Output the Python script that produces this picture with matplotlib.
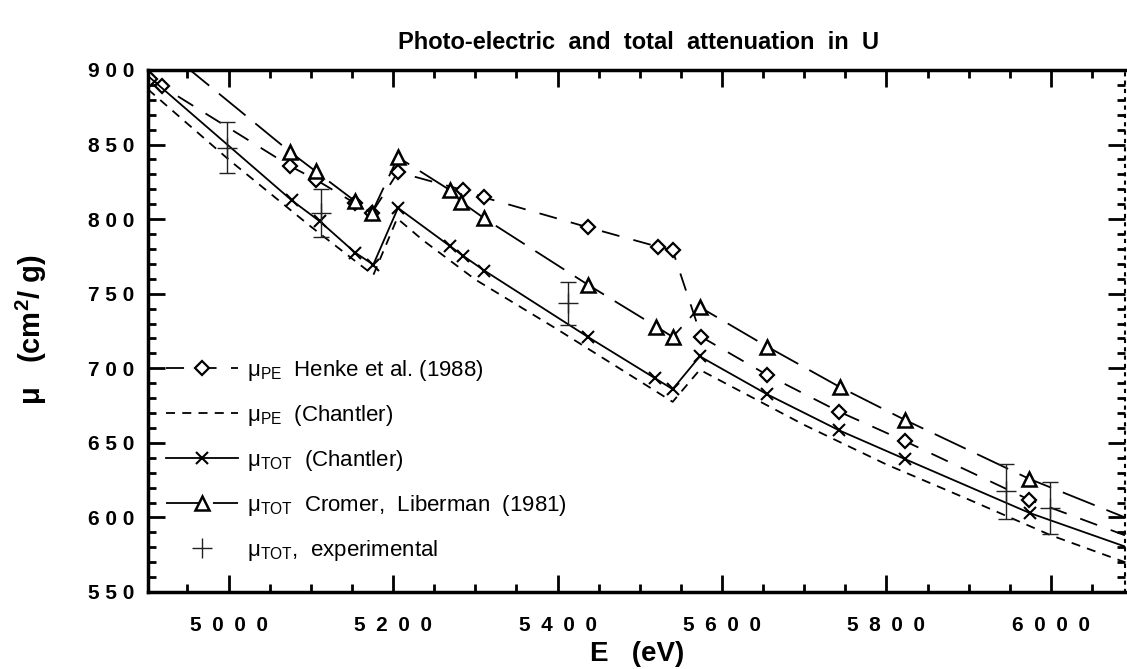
import matplotlib
matplotlib.use('Agg')
import matplotlib.pyplot as plt
from matplotlib.ticker import MultipleLocator, FuncFormatter

# Henke et al. (1988), photo-electric
henke_E = [4905, 4919, 5075, 5106, 5154, 5174, 5206, 5285, 5311, 5437, 5522, 5540, 5575, 5655, 5742, 5823, 5973, 6090]
henke_mu = [894, 889, 835.5, 826.5, 810.5, 804, 831.5, 819.5, 814.5, 794.5, 781.5, 779, 721, 695.5, 671, 651, 612, 588]

# Chantler, photo-electric
pe_E = [4902, 5000, 5100, 5176, 5205, 5236, 5300, 5400, 5540, 5573, 5700, 5800, 5900, 6000, 6090]
pe_mu = [887, 840, 795, 762.5, 800.5, 786, 759.5, 726, 677.5, 699, 662, 635.5, 612, 588, 570]

# Chantler, total
tot_E = [4902, 5077, 5111, 5154, 5176, 5206, 5269, 5285, 5311, 5437, 5518, 5540, 5573, 5655, 5742, 5823, 5974, 6090]
tot_mu = [896, 812.5, 798.5, 777.5, 769.5, 807.5, 782, 775.5, 765.5, 721, 693.5, 686, 708, 682.5, 658.5, 639, 603, 580.5]

# Cromer, Liberman (1981), total
cromer_E = [4900, 5075, 5106, 5154, 5174, 5206, 5269, 5283, 5311, 5437, 5520, 5540, 5573, 5655, 5743, 5822, 5973, 6090]
cromer_mu = [924, 845, 832, 812, 804, 841.5, 819.5, 811.5, 800.5, 756, 728, 721, 741, 714.5, 687.5, 665.5, 626, 600]

# experimental total attenuation
exp_E = [4998, 5113, 5413, 5945, 5999]
exp_mu = [848, 804, 743.5, 617.5, 606.5]
exp_err = [17, 16, 14.5, 18.5, 17.5]

plt.rcParams['font.family'] = ['Liberation Sans', 'DejaVu Sans']
plt.rcParams['mathtext.fontset'] = 'custom'
plt.rcParams['mathtext.rm'] = 'Liberation Sans'
plt.rcParams['mathtext.it'] = 'Liberation Sans:italic'
plt.rcParams['mathtext.bf'] = 'Liberation Sans:bold'


# digits are typeset wide apart in the original
def spaced_x(v, pos):
    return '\u2002'.join(f'{v:.0f}')


def spaced_y(v, pos):
    return ' '.join(f'{v:.0f}')


fig = plt.figure(figsize=(11.27, 6.69), dpi=100)
ax = fig.add_axes([0.1313, 0.1151, 0.8669, 0.7803])

lw = 1.3
h_henke, = ax.plot(henke_E, henke_mu, color='black', lw=lw, dashes=(10, 8),
                   marker='D', ms=7, mfc='white', mec='black', mew=1.6,
                   markevery=slice(0, -1))
h_pe, = ax.plot(pe_E, pe_mu, color='black', lw=lw, dashes=(5, 4))
h_tot, = ax.plot(tot_E, tot_mu, color='black', lw=lw, marker='x', ms=8, mew=1.5,
                 markevery=slice(1, -1))
h_cromer, = ax.plot(cromer_E, cromer_mu, color='black', lw=lw, dashes=(19, 7),
                    marker='^', ms=10, mfc='white', mec='black', mew=1.8,
                    markevery=slice(1, -1))
ax.errorbar(exp_E, exp_mu, yerr=exp_err, fmt='none', ecolor='#222222',
            elinewidth=1.0, capsize=6, capthick=1.0, linestyle=':')
h_exp, = ax.plot(exp_E, exp_mu, linestyle='none', marker='+', ms=14, mew=1.0,
                 color='#222222')

ax.set_xlim(4902, 6090)
ax.set_ylim(550, 900)

ax.xaxis.set_major_locator(MultipleLocator(200))
ax.xaxis.set_minor_locator(MultipleLocator(50))
ax.yaxis.set_major_locator(MultipleLocator(50))
ax.yaxis.set_minor_locator(MultipleLocator(10))
ax.xaxis.set_major_formatter(FuncFormatter(spaced_x))
ax.yaxis.set_major_formatter(FuncFormatter(spaced_y))

ax.tick_params(which='both', direction='in', top=True, right=True, width=2)
ax.tick_params(which='major', length=12, labelsize=15)
ax.tick_params(which='minor', length=6)
ax.tick_params(axis='x', which='major', pad=17)
ax.tick_params(axis='y', which='major', pad=10)
for lab in ax.get_xticklabels() + ax.get_yticklabels():
    lab.set_fontweight('bold')

for side in ['left', 'bottom', 'top']:
    ax.spines[side].set_linewidth(2.5)
ax.spines['right'].set_linewidth(1.5)
ax.spines['right'].set_linestyle((0, (1, 3)))

labels = ['μ$_{\\rm PE}$  Henke et al. (1988)',
          'μ$_{\\rm PE}$  (Chantler)',
          'μ$_{\\rm TOT}$  (Chantler)',
          'μ$_{\\rm TOT}$  Cromer,  Liberman  (1981)',
          'μ$_{\\rm TOT}$,  experimental']
ax.legend([h_henke, h_pe, h_tot, h_cromer, h_exp], labels, loc='upper left',
          bbox_to_anchor=(0.0184, 0.448), frameon=False, fontsize=16,
          handlelength=3.25, handletextpad=0.4, labelspacing=0.9,
          numpoints=1, borderaxespad=0, borderpad=0)

fig.text(0.567, 0.937, 'Photo-electric  and  total  attenuation  in  U',
         ha='center', va='center', fontsize=17, fontweight='bold')
fig.text(0.565, 0.022, 'E   (eV)', ha='center', va='center', fontsize=20,
         fontweight='bold')
fig.text(0.028, 0.507, 'μ   (cm$^{\\mathbf{2}}$/ g)', ha='center', va='center',
         fontsize=21, fontweight='bold', rotation=90)

fig.savefig('out.png', dpi=100)
